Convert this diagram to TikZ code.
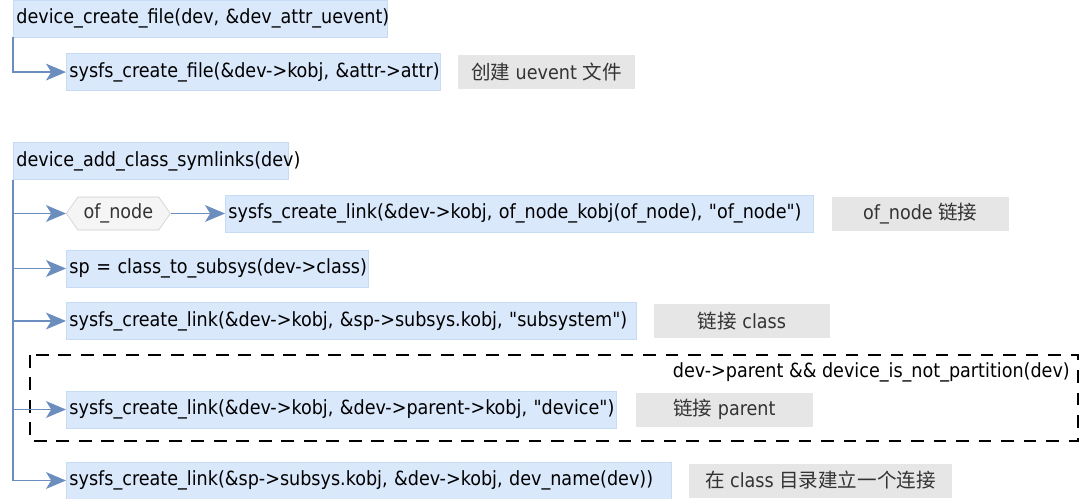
\documentclass[tikz,border=0pt]{standalone}
\usepackage{fontspec}
\setmainfont[Ligatures=TeXOff]{DejaVu Sans Condensed}
\newfontfamily\cjk{Noto Sans CJK SC}
\usepackage{tikz}
\usetikzlibrary{arrows.meta, positioning, calc, shapes.symbols}

\definecolor{fnblue}{HTML}{DAE8FC}
\definecolor{fnedge}{HTML}{C8DBF5}
\definecolor{notegray}{HTML}{E6E6E6}
\definecolor{linkblue}{HTML}{6C8EBF}
\definecolor{notetext}{HTML}{333333}

\begin{document}
\begin{tikzpicture}[
  font=\fontsize{13.9}{16}\selectfont,
  fn/.style={draw=fnedge, fill=fnblue, align=left, inner xsep=0.08cm, inner ysep=0pt, minimum height=0.925cm, anchor=west,
    execute at begin node=\hbox\bgroup, execute at end node=\egroup},
  note/.style={fill=notegray, text=notetext, align=center, inner sep=0pt, minimum height=0.85cm},
  cond/.style={fill=black!4, draw=black!20, text=notetext, signal, signal to=east and west, signal pointer angle=110, inner sep=1pt, minimum width=2.6cm, minimum height=0.825cm},
  link/.style={->, >={Stealth[length=0.5cm, width=0.42cm, inset=0.13cm]}, draw=linkblue, line width=0.9pt}
]
\useasboundingbox (0,0) rectangle (27,-12.475);

% uevent
\node[fn, text width=9.19cm] (devfile) at (0.325,-0.4625) {device\_create\_file(dev, \&dev\_attr\_uevent)};
\node[fn, text width=9.19cm, below right=0.4cm and 1.325cm of devfile.south west] (sysfile) {sysfs\_create\_file(\&dev->kobj, \&attr->attr)};
\node[note, minimum width=4.425cm, right=0.425cm of sysfile] (filenote) {{\cjk 创建} uevent {\cjk 文件}};

% class symlinks
\node[fn, text width=6.715cm, below right=2.625cm and 0cm of devfile.south west] (symlinks) {device\_add\_class\_symlinks(dev)};
\node[cond, anchor=west] (ofnode) at (1.65,-5.3375) {of\_node};
\node[fn, text width=14.54cm] (oflink) at (5.625,-5.3375) {sysfs\_create\_link(\&dev->kobj, of\_node\_kobj(of\_node), "of\_node")};
\node[note, minimum width=4.425cm, right=0.45cm of oflink] (ofnote) {of\_node {\cjk 链接}};
\node[fn, text width=7.39cm] (subsys) at (1.65,-6.7125) {sp = class\_to\_subsys(dev->class)};
\node[fn, text width=14.09cm] (sublink) at (1.65,-8.025) {sysfs\_create\_link(\&dev->kobj, \&sp->subsys.kobj, "subsystem")};
\node[note, minimum width=4.4cm, right=0.425cm of sublink] (classnote) {{\cjk 链接} class};
\node[fn, text width=13.59cm] (parentlink) at (1.65,-10.2375) {sysfs\_create\_link(\&dev->kobj, \&dev->parent->kobj, "device")};
\node[note, minimum width=4.425cm, right=0.475cm of parentlink] (parentnote) {{\cjk 链接} parent};
\node[fn, text width=14.965cm] (dirlink) at (1.65,-12.0125) {sysfs\_create\_link(\&sp->subsys.kobj, \&dev->kobj, dev\_name(dev))};
\node[note, minimum width=6.575cm, right=0.425cm of dirlink] (dirnote) {{\cjk 在} class {\cjk 目录建立一个连接}};

% condition frame
\coordinate (framenw) at (0.75,-8.875);
\coordinate (framese) at (26.95,-11.025);
\draw[dashed, line width=1.4pt, dash pattern=on 9pt off 7pt] (framenw) rectangle (framese);
\node[anchor=east, inner sep=0pt] (condtext) at (26.75,-9.3) {dev->parent \&\& device\_is\_not\_partition(dev)};

\draw[link] (devfile.south west) |- (sysfile.west);
\draw[link] (symlinks.south west) |- (ofnode.west);
\draw[link] (ofnode.east) -- (oflink.west);
\draw[link] (symlinks.south west) |- (subsys.west);
\draw[link] (symlinks.south west) |- (sublink.west);
\draw[link] (symlinks.south west) |- (parentlink.west);
\draw[link] (symlinks.south west) |- (dirlink.west);
\end{tikzpicture}
\end{document}
